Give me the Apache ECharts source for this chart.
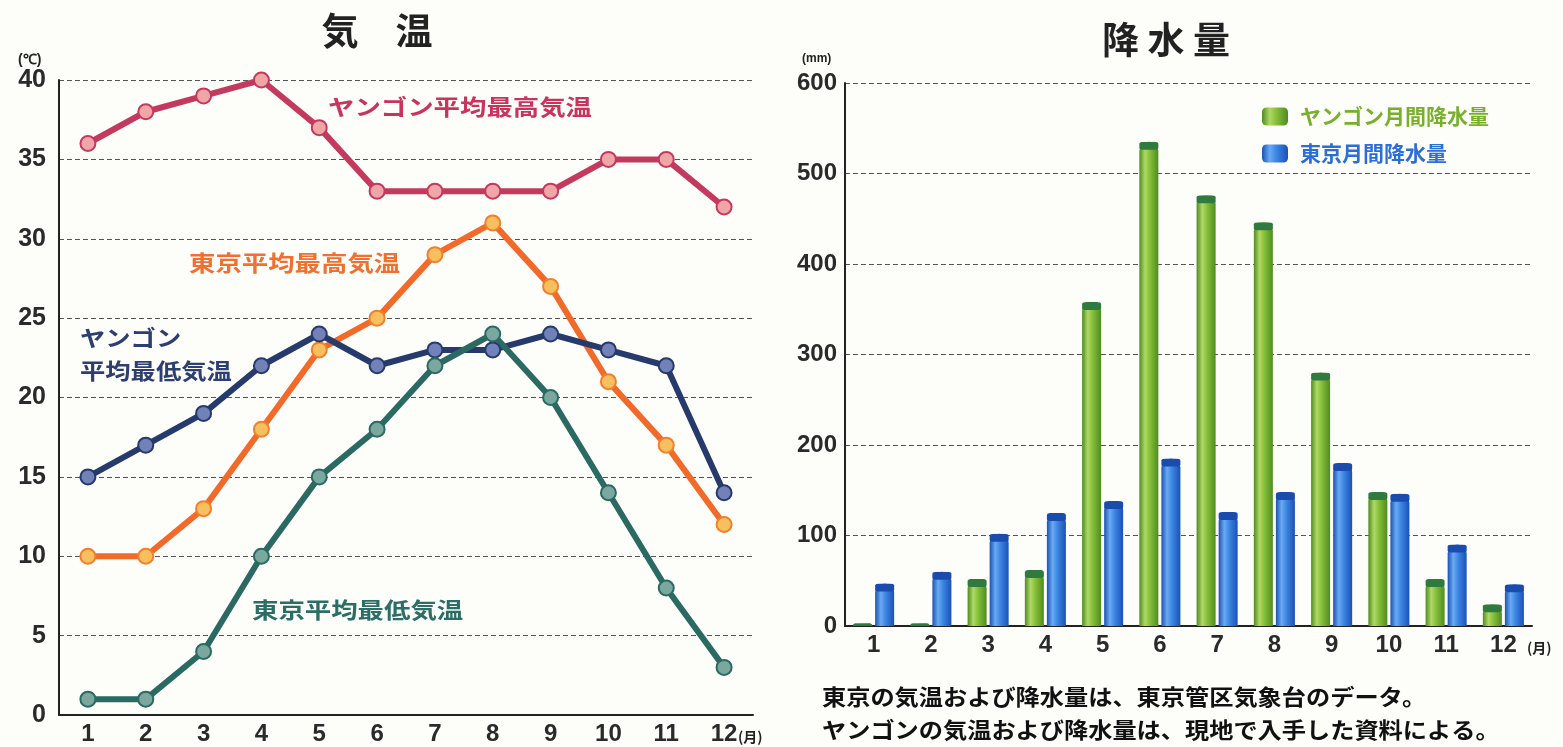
<!DOCTYPE html>
<html><head><meta charset="utf-8">
<script src="https://cdn.jsdelivr.net/npm/echarts@6/dist/echarts.min.js"></script>
<style>html,body{margin:0;padding:0;background:#fdfdfa}#c{width:1563px;height:747px}</style>
</head><body><div id="c"></div>
<script>
// ---- data ----
const months = ['1','2','3','4','5','6','7','8','9','10','11','12'];
const yangonHigh = [36,38,39,40,37,33,33,33,33,35,35,32];
const tokyoHigh  = [10,10,13,18,23,25,29,31,27,21,17,12];
const yangonLow  = [15,17,19,22,24,22,23,23,24,23,22,14];
const tokyoLow   = [1,1,4,10,15,18,22,24,20,14,8,3];
const yangonRain = [3,3,52,62,358,535,476,446,280,148,52,24];
const tokyoRain  = [47,60,102,125,138,185,126,148,180,146,90,46];
const seriesNames = ['ヤンゴン平均最高気温','東京平均最高気温','ヤンゴン平均最低気温','東京平均最低気温'];
const rainNames = ['ヤンゴン月間降水量','東京月間降水量'];

const NUM = "'Liberation Sans', Arial, sans-serif";
const JP = "'Noto Sans CJK JP', 'Noto Sans CJK SC', sans-serif";

const chart = echarts.init(document.getElementById('c'), null, {renderer:'canvas'});

function lineSeries(name, data, lineColor, fillColor, borderColor) {
  return {
    type:'line', name, data, xAxisIndex:0, yAxisIndex:0,
    symbol:'circle', symbolSize:15,
    lineStyle:{color:lineColor, width:6},
    itemStyle:{color:fillColor, borderColor:borderColor, borderWidth:2},
    emphasis:{disabled:true}
  };
}
function grad(edge, mid, light) {
  return new echarts.graphic.LinearGradient(0,0,1,0,[
    {offset:0,color:edge},{offset:0.3,color:light},{offset:0.55,color:mid},{offset:1,color:edge}]);
}
const greenGrad = grad('#4f8c1f','#86bf3a','#b0d866');
const blueGrad = grad('#1a52b4','#3d86e4','#6aaaf2');

const dash = {color:'#555', width:1, type:[5,3]};

function jpText(text, x, y, size, color, scaleX, align) {
  return {type:'text', x, y, scaleX: scaleX||1, z:100,
    style:{text, fill:color, fontSize:size, fontWeight:'bold', fontFamily:JP,
      align: align||'left', verticalAlign:'middle'}};
}

const option = {
  backgroundColor:'#fdfdfa',
  animation:false,
  grid:[
    {left:59, right:810, top:80, bottom:32},
    {left:845, right:31, top:83, bottom:121}
  ],
  xAxis:[
    {type:'category', gridIndex:0, data:months, boundaryGap:true,
      axisLine:{lineStyle:{color:'#222', width:2}},
      axisTick:{inside:true, length:10, alignWithLabel:true, lineStyle:{color:'#222', width:1.5}},
      axisLabel:{color:'#2a2a2a', fontSize:24, fontWeight:'bold', fontFamily:NUM, margin:7}},
    {type:'category', gridIndex:1, data:months, boundaryGap:true,
      axisLine:{lineStyle:{color:'#222', width:2}},
      axisTick:{inside:true, length:10, lineStyle:{color:'#222', width:1.5}},
      axisLabel:{color:'#2a2a2a', fontSize:24, fontWeight:'bold', fontFamily:NUM, margin:7}}
  ],
  yAxis:[
    {type:'value', gridIndex:0, min:0, max:40, interval:5,
      axisLine:{show:true, lineStyle:{color:'#222', width:2}},
      axisTick:{show:false},
      splitLine:{lineStyle:dash},
      axisLabel:{color:'#2a2a2a', fontSize:25, fontWeight:'bold', fontFamily:NUM, margin:13}},
    {type:'value', gridIndex:1, min:0, max:600, interval:100,
      axisLine:{show:true, lineStyle:{color:'#222', width:2}},
      axisTick:{show:false},
      splitLine:{lineStyle:dash},
      axisLabel:{color:'#2a2a2a', fontSize:24, fontWeight:'bold', fontFamily:NUM, margin:8}}
  ],
  legend:{
    data:[
      {name:rainNames[0], textStyle:{color:'#78b02c'}},
      {name:rainNames[1], textStyle:{color:'#2a6ed6'}}
    ],
    orient:'vertical', left:1257, top:101, itemWidth:26, itemHeight:18, itemGap:16,
    icon:'roundRect', selectedMode:false,
    textStyle:{fontSize:21, fontWeight:'bold', fontFamily:JP, lineHeight:21, padding:[0,0,0,7]}
  },
  series:[
    lineSeries(seriesNames[0], yangonHigh, '#c43a5e', '#f0a6a6', '#c43a5e'),
    lineSeries(seriesNames[1], tokyoHigh, '#f26a2a', '#f8bf5e', '#f0802e'),
    lineSeries(seriesNames[2], yangonLow, '#263b6c', '#7282b8', '#263b6c'),
    lineSeries(seriesNames[3], tokyoLow, '#2a6a62', '#7aa89f', '#2a6a62'),
    {type:'bar', name:rainNames[0], data:yangonRain, xAxisIndex:1, yAxisIndex:1,
      barWidth:19, barGap:'16%', itemStyle:{color:greenGrad, borderRadius:[9,9,0,0]}},
    {type:'bar', name:rainNames[1], data:tokyoRain, xAxisIndex:1, yAxisIndex:1,
      barWidth:19, barGap:'16%', itemStyle:{color:blueGrad, borderRadius:[9,9,0,0]}},
    {type:'pictorialBar', name:'capG', data:yangonRain, xAxisIndex:1, yAxisIndex:1,
      barWidth:19, barGap:'16%', symbol:'roundRect', symbolSize:[19,8], symbolPosition:'end',
      symbolClip:true, z:3, itemStyle:{color:'#2f7a3e'}},
    {type:'pictorialBar', name:'capB', data:tokyoRain, xAxisIndex:1, yAxisIndex:1,
      barWidth:19, barGap:'16%', symbol:'roundRect', symbolSize:[19,8], symbolPosition:'end',
      symbolClip:true, z:3, itemStyle:{color:'#1a4cae'}}
  ],
  graphic:[
    jpText('気　温', 377, 31, 37, '#222', 1, 'center'),
    jpText('降 水 量', 1166, 40, 37, '#222', 1, 'center'),
    {type:'text', x:18, y:60, z:100, style:{text:'(℃)', fill:'#222', fontSize:14, fontWeight:'bold', fontFamily:NUM, verticalAlign:'middle'}},
    {type:'text', x:802, y:59, z:100, style:{text:'(mm)', fill:'#222', fontSize:12, fontWeight:'bold', fontFamily:NUM, verticalAlign:'middle'}},
    jpText('(月)', 738, 737, 14, '#222', 1),
    jpText('(月)', 1527, 648, 14, '#222', 1),
    jpText(seriesNames[0], 328, 107, 22, '#c8345c', 1.2),
    jpText(seriesNames[1], 189, 263, 22, '#f07030', 1.2),
    jpText('ヤンゴン', 80, 338, 22, '#2d3f70', 1.15),
    jpText('平均最低気温', 80, 371, 22, '#2d3f70', 1.15),
    jpText(seriesNames[3], 252, 610, 22, '#2b6e66', 1.2),
    jpText('東京の気温および降水量は、東京管区気象台のデータ。', 822, 697, 22, '#111', 1.1),
    jpText('ヤンゴンの気温および降水量は、現地で入手した資料による。', 822, 730, 22, '#111', 1.1)
  ]
};
chart.setOption(option);
</script></body></html>
